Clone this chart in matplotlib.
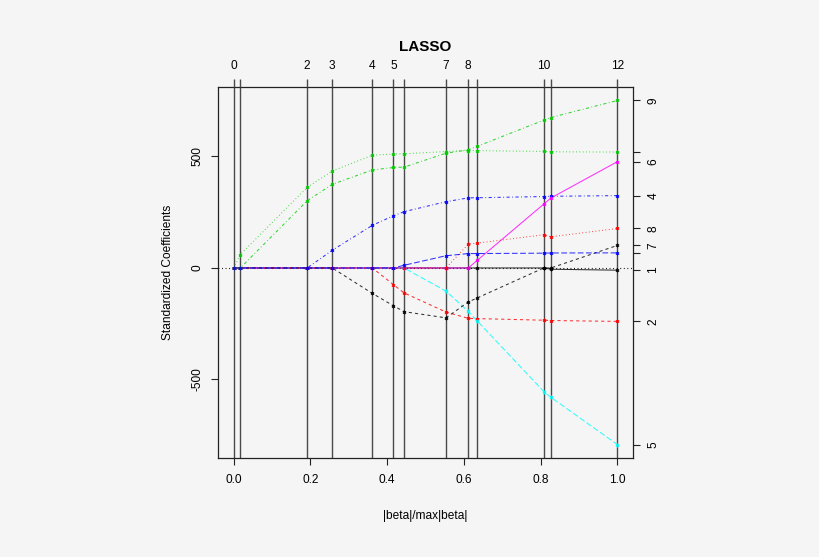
import numpy as np
import matplotlib
matplotlib.use("Agg")
import matplotlib.pyplot as plt

plt.rcParams['font.family'] = ['Liberation Sans', 'DejaVu Sans']

# LASSO coefficient path (rows = steps 0..12, columns = variables 1..10)
var_names = ["age", "sex", "bmi", "map", "tc", "ldl", "hdl", "tch", "ltg", "glu"]
coefs = np.array([
    [0, 0, 0, 0, 0, 0, 0, 0, 0, 0],
    [0, 0, 60.12, 0, 0, 0, 0, 0, 0, 0],
    [0, 0, 361.89, 0, 0, 0, 0, 0, 301.78, 0],
    [0, 0, 434.76, 79.24, 0, 0, 0, 0, 374.92, 0],
    [0, 0, 505.66, 191.27, 0, 0, -114.10, 0, 439.66, 0],
    [0, -74.92, 511.35, 234.15, 0, 0, -169.71, 0, 450.67, 0],
    [0, -111.98, 512.04, 252.53, 0, 0, -196.05, 0, 452.39, 12.08],
    [0, -197.76, 522.26, 297.16, -103.95, 0, -223.93, 0, 514.75, 54.77],
    [0, -226.13, 526.89, 314.39, -195.11, 0, -152.48, 106.34, 529.92, 64.49],
    [0, -227.18, 526.39, 314.95, -237.34, 33.63, -134.60, 111.38, 545.48, 64.61],
    [0, -234.40, 522.65, 320.34, -554.27, 286.74, 0, 148.90, 663.03, 66.33],
    [-5.72, -235.78, 521.23, 321.55, -580.44, 313.86, 0, 139.86, 674.94, 67.18],
    [-10.01, -239.82, 519.84, 324.39, -792.18, 476.75, 101.04, 177.06, 751.28, 67.63],
])
step_labels = ["0", "", "2", "3", "4", "5", "", "7", "8", "", "10", "", "12"]
right_labels = ["1", "2", "", "4", "5", "6", "7", "8", "9", ""]
y_ticks = [-500, 0, 500]
x_ticks = [0.0, 0.2, 0.4, 0.6, 0.8, 1.0]

# R matplot defaults
r_cols = ["#000000", "#FF0000", "#00CD00", "#0000FF", "#00FFFF", "#FF00FF"]
r_ltys = [
    (0, ()),                   # solid
    (0, (3.0, 3.0)),           # dashed
    (0, (0.8, 2.4)),           # dotted
    (0, (0.8, 2.4, 3.0, 2.4)), # dotdash
    (0, (5.5, 2.4)),           # longdash
]

s = np.abs(coefs).sum(axis=1)
s = s / s.max()

bg = "#f5f5f5"
fig = plt.figure(figsize=(8.2, 5.57), dpi=100, facecolor=bg)
ax = fig.add_axes([0.2662, 0.1772, 0.5054, 0.6671])
ax.set_facecolor(bg)

xr = 1.0
ax.set_xlim(-0.04 * xr, 1 + 0.04 * xr)
ymin, ymax = coefs.min(), coefs.max()
yr = ymax - ymin
ax.set_ylim(ymin - 0.04 * yr, ymax + 0.04 * yr)

for i in range(coefs.shape[1]):
    col = r_cols[i % 6]
    ls = r_ltys[i % 5]
    ax.plot(s, coefs[:, i], color=col, linestyle=ls, lw=0.75, alpha=0.8,
            zorder=3)
    ax.plot(s, coefs[:, i], linestyle="none", marker=(6, 2, 0),
            markersize=2.6, markeredgewidth=0.7, markeredgecolor=col,
            alpha=0.85, zorder=4)

for xv in s:
    ax.axvline(xv, color="#4a4a4a", lw=1.0, zorder=2)
ax.axhline(0, color="black", lw=0.8, linestyle=(0, (0.8, 2.4)), zorder=2)

for sp in ax.spines.values():
    sp.set_color("#222222")
    sp.set_linewidth(0.9)

tick_fs = 8.6
ax.set_xticks(x_ticks)
ax.set_xticklabels(["%.1f" % v for v in x_ticks], fontsize=tick_fs)
ax.set_yticks(y_ticks)
ax.set_yticklabels([str(v) for v in y_ticks], fontsize=tick_fs,
                   rotation=90, va="center")
ax.tick_params(axis="x", length=5, width=0.8, pad=6, color="#222222")
ax.tick_params(axis="y", length=5, width=0.8, pad=5.5, color="#222222")

ax.set_xlabel("|beta|/max|beta|", fontsize=tick_fs)
ax.xaxis.set_label_coords(0.5, -0.139)
ax.set_ylabel("Standardized Coefficients", fontsize=tick_fs, va="center")
ax.yaxis.set_label_coords(-0.1207, 0.5)

# top axis: steps
axt = ax.twiny()
axt.set_xlim(ax.get_xlim())
axt.set_xticks(s)
axt.set_xticklabels(step_labels, fontsize=tick_fs)
axt.tick_params(axis="x", length=6, width=1.0, pad=4.5, color="#4a4a4a")
for sp in axt.spines.values():
    sp.set_visible(False)

# right axis: variable numbers at final coefficients
axr = ax.twinx()
axr.set_ylim(ax.get_ylim())
axr.set_yticks(coefs[-1])
axr.set_yticklabels(right_labels, fontsize=tick_fs, rotation=90, va="center")
axr.tick_params(axis="y", length=5, width=0.8, pad=5.5, color="#222222")
for sp in axr.spines.values():
    sp.set_visible(False)

ax.text(0.5, 1.1077, "LASSO", transform=ax.transAxes, ha="center",
        va="center", fontsize=11, fontweight="bold")

fig.savefig("out.png", dpi=100, facecolor=bg)
